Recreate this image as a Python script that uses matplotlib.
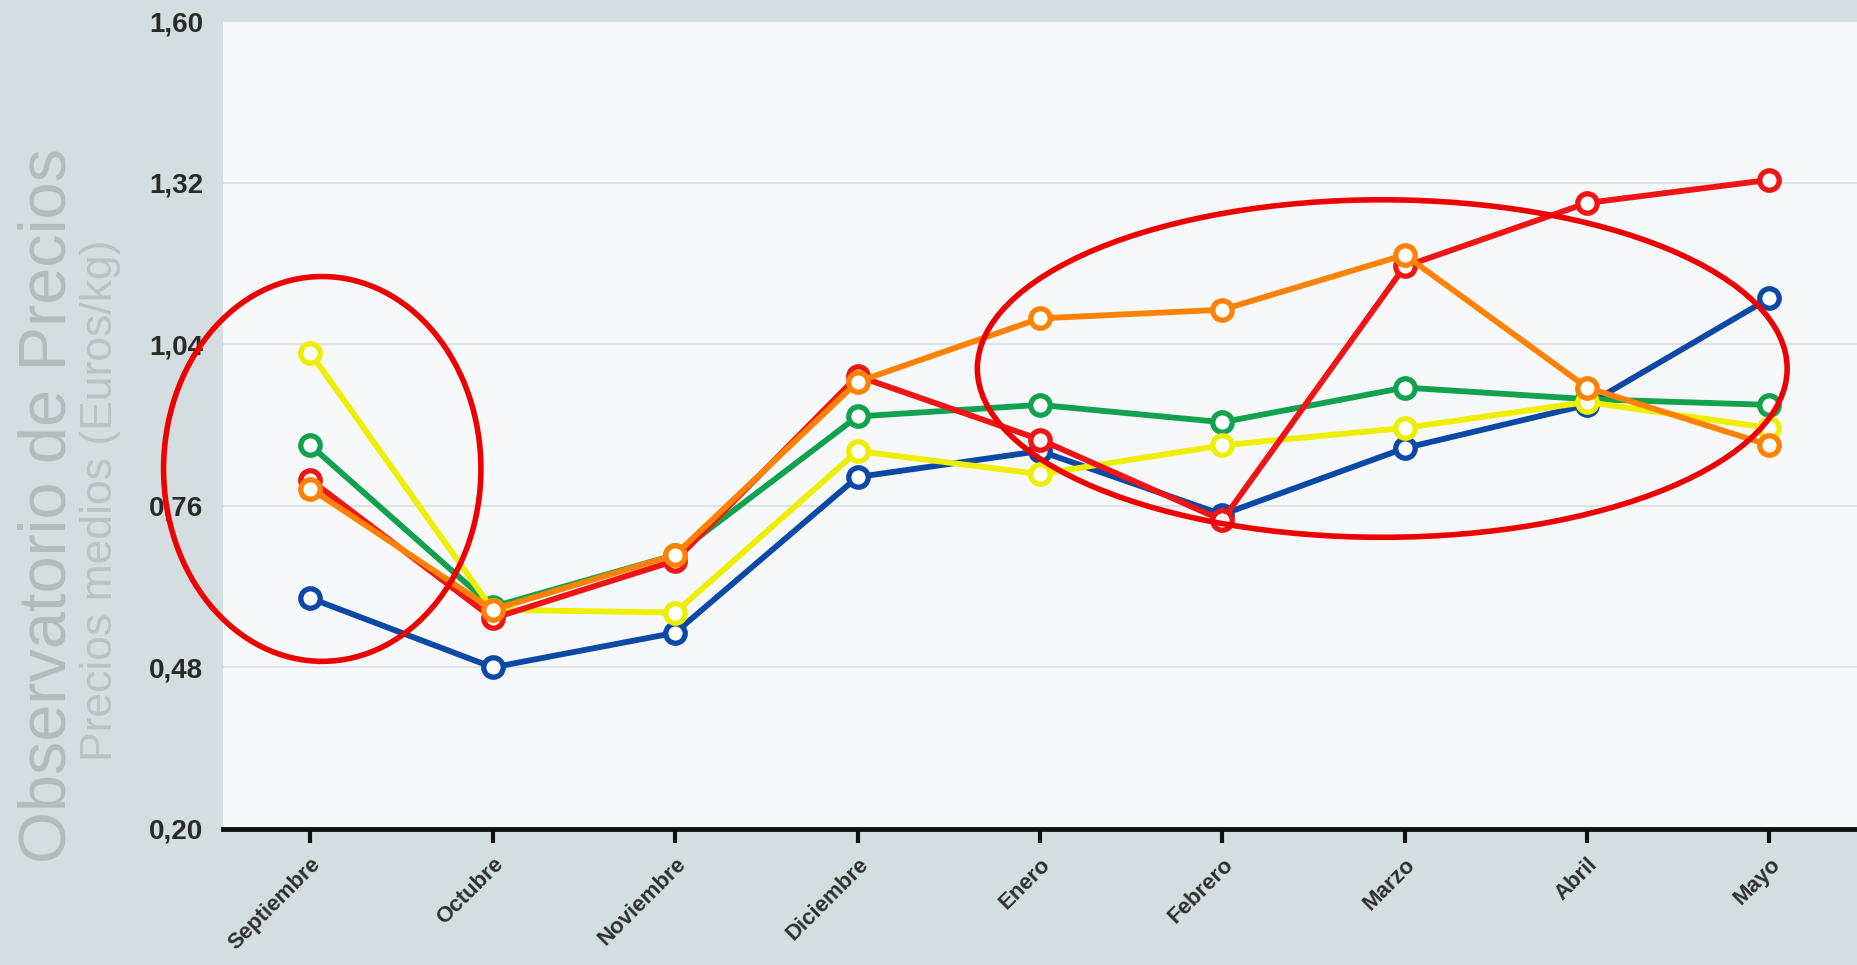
import numpy as np
import matplotlib
matplotlib.use('Agg')
import matplotlib.pyplot as plt
from matplotlib.patches import Ellipse

# dati (Euros/kg)
mesi = ['Septiembre', 'Octubre', 'Noviembre', 'Diciembre', 'Enero',
        'Febrero', 'Marzo', 'Abril', 'Mayo']
serie_azul = [0.60, 0.48, 0.54, 0.81, 0.855, 0.745, 0.86, 0.935, 1.12]
serie_verde = [0.865, 0.585, 0.675, 0.915, 0.935, 0.905, 0.965, 0.945, 0.935]
serie_amarilla = [1.025, 0.58, 0.575, 0.855, 0.815, 0.865, 0.895, 0.94, 0.895]
serie_roja = [0.805, 0.565, 0.665, 0.985, 0.875, 0.735, 1.175, 1.285, 1.325]
serie_naranja = [0.79, 0.58, 0.675, 0.975, 1.085, 1.10, 1.195, 0.965, 0.865]
ticks_y = [0.20, 0.48, 0.76, 1.04, 1.32, 1.60]
etiquetas_y = ['0,20', '0,48', '0,76', '1,04', '1,32', '1,60']

plt.rcParams['font.family'] = ['Liberation Sans', 'DejaVu Sans']

fig = plt.figure(figsize=(18.57, 9.65), dpi=100, facecolor='#d4dee0')
ax = fig.add_axes([0.12, 0.141, 0.88, 0.837])
ax.set_facecolor('#f6f8f9')

x = np.arange(len(mesi))
series = [(serie_azul, '#0c48a6'), (serie_verde, '#12a14e'),
          (serie_amarilla, '#eeee00'), (serie_roja, '#f01414'),
          (serie_naranja, '#ff8205')]
for valori, colore in series:
    ax.plot(x, valori, color=colore, lw=4.2, marker='o', ms=14,
            mfc='white', mec=colore, mew=3.8, zorder=3)

# ellissi rosse di evidenziazione
ax.add_patch(Ellipse((0.065, 0.824), 1.74, 0.667, fill=False,
                     ec='#ee0000', lw=4, clip_on=False, zorder=4))
ax.add_patch(Ellipse((5.877, 0.998), 4.44, 0.585, fill=False,
                     ec='#ee0000', lw=4, clip_on=False, zorder=4))

ax.set_xlim(-0.48, 8.48)
ax.set_ylim(0.2, 1.6)
ax.set_yticks(ticks_y)
ax.set_yticklabels(etiquetas_y, fontsize=20, fontweight='bold', color='#2a2a2a')
ax.set_xticks(x)
ax.set_xticklabels(mesi, rotation=45, ha='right', va='top',
                   rotation_mode='anchor', fontsize=16, fontweight='bold',
                   color='#2e2e2e')
ax.tick_params(axis='y', length=0, pad=14)
ax.tick_params(axis='x', length=10, width=3, color='#111111', pad=8)
ax.grid(axis='y', color='#dde3e5', lw=1.5)
ax.set_axisbelow(True)
for lato in ['left', 'right', 'top']:
    ax.spines[lato].set_visible(False)
ax.spines['bottom'].set_linewidth(3.5)
ax.spines['bottom'].set_color('#111111')

# titolo verticale a sinistra
fig.text(0.026, 0.476, 'Observatorio de Precios', rotation=90, fontsize=48,
         color='#b3bbbd', ha='center', va='center')
fig.text(0.054, 0.482, 'Precios medios (Euros/kg)', rotation=90, fontsize=32,
         color='#bac2c4', ha='center', va='center')

fig.savefig('out.png', dpi=100, facecolor=fig.get_facecolor())
